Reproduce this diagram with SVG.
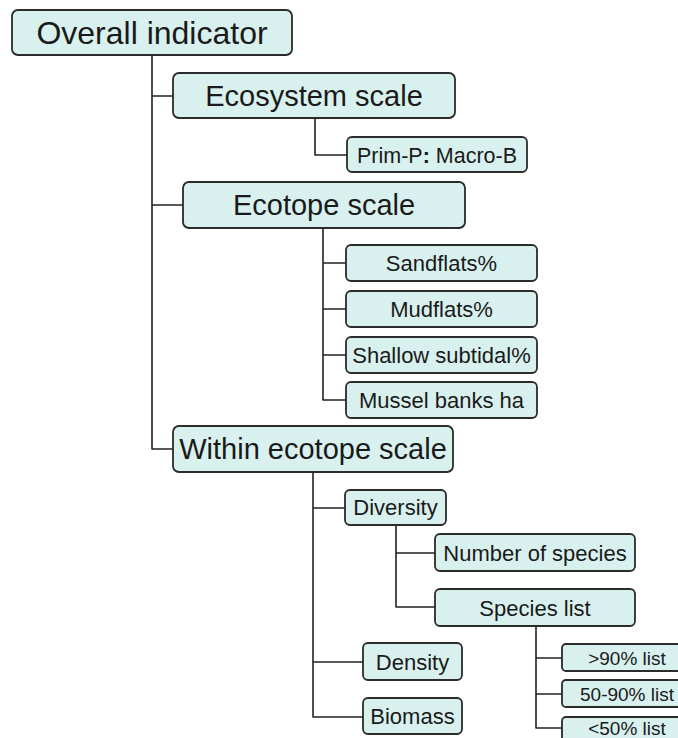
<svg xmlns="http://www.w3.org/2000/svg" width="678" height="738" viewBox="0 0 678 738">
<defs>
<style>
.box{fill:#d9f1ee;stroke:#2b2b2b;stroke-width:1.8}
.t{font-family:"Liberation Sans",Arial,sans-serif;fill:#1a1a1a;text-anchor:middle}
.big{font-size:29px}
.mid{font-size:22px}
.sm{font-size:19px}
.con{fill:none;stroke:#222;stroke-width:1.6;stroke-linejoin:round}
</style>
</defs>
<rect width="678" height="738" fill="#fff"/>
<g id="connectors">
<path class="con" d="M152,55 V449 H173 M152,96 H173 M152,205 H183"/>
<path class="con" d="M315,118 V155 H347"/>
<path class="con" d="M323,228 V400 H346 M323,263 H346 M323,309 H346 M323,355 H346"/>
<path class="con" d="M313,472 V717 H363 M313,508 H345 M313,662 H363"/>
<path class="con" d="M396,525 V607 H435 M396,553 H435"/>
<path class="con" d="M536,626 V728 H562 M536,658 H562 M536,694 H562"/>
</g>
<g id="overall"><rect class="box" x="12" y="10" width="280" height="45" rx="6"/><text class="t" x="152" y="44" font-size="32">Overall indicator</text></g>
<g id="ecosystem"><rect class="box" x="173" y="73" width="282" height="45" rx="6"/><text class="t big" x="314" y="106">Ecosystem scale</text></g>
<g id="primp"><rect class="box" x="347" y="137" width="180" height="35" rx="5"/><text class="t" x="437" y="162.5" font-size="21.5">Prim-P<tspan font-weight="bold">:</tspan> Macro-B</text></g>
<g id="ecotope"><rect class="box" x="183" y="182" width="282" height="46" rx="6"/><text class="t big" x="324" y="215">Ecotope scale</text></g>
<g id="sandflats"><rect class="box" x="346" y="245" width="191" height="36" rx="5"/><text class="t mid" x="441.5" y="271">Sandflats%</text></g>
<g id="mudflats"><rect class="box" x="346" y="291" width="191" height="36" rx="5"/><text class="t mid" x="441.5" y="317">Mudflats%</text></g>
<g id="shallow"><rect class="box" x="346" y="337" width="191" height="36" rx="5"/><text class="t mid" x="441.5" y="363">Shallow subtidal%</text></g>
<g id="mussel"><rect class="box" x="346" y="382" width="191" height="36" rx="5"/><text class="t mid" x="441.5" y="408">Mussel banks ha</text></g>
<g id="within"><rect class="box" x="173" y="426" width="280" height="46" rx="6"/><text class="t big" x="313" y="459">Within ecotope scale</text></g>
<g id="diversity"><rect class="box" x="345" y="490" width="101" height="35" rx="5"/><text class="t mid" x="395.5" y="515">Diversity</text></g>
<g id="numspecies"><rect class="box" x="435" y="534" width="200" height="37" rx="5"/><text class="t mid" x="535" y="560.5">Number of species</text></g>
<g id="specieslist"><rect class="box" x="435" y="589" width="200" height="37" rx="5"/><text class="t mid" x="535" y="615.5">Species list</text></g>
<g id="density"><rect class="box" x="363" y="643" width="99" height="37" rx="5"/><text class="t mid" x="412.5" y="669.5">Density</text></g>
<g id="biomass"><rect class="box" x="363" y="698" width="99" height="36" rx="5"/><text class="t mid" x="412.5" y="724">Biomass</text></g>
<g id="gt90"><rect class="box" x="562" y="644" width="130" height="27" rx="4"/><text class="t sm" x="627" y="664.5">&gt;90% list</text></g>
<g id="p5090"><rect class="box" x="562" y="680" width="130" height="27" rx="4"/><text class="t sm" x="627" y="700.5">50-90% list</text></g>
<g id="lt50"><rect class="box" x="562" y="717" width="130" height="27" rx="4"/><text class="t sm" x="627" y="735">&lt;50% list</text></g>
</svg>
